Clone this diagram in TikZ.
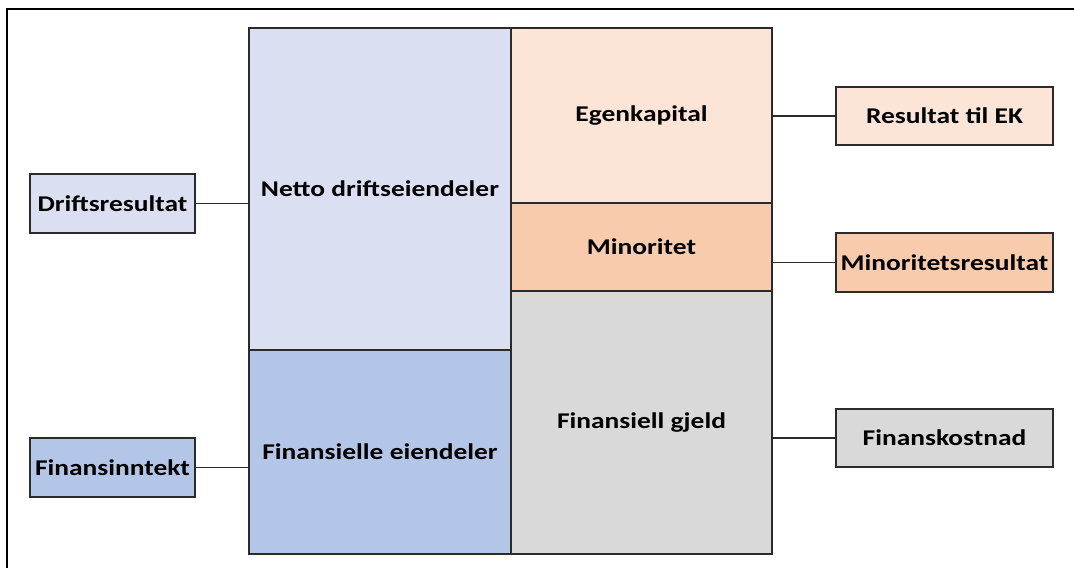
\documentclass[tikz,border=0pt]{standalone}
\usepackage{fontspec}
\usepackage{graphicx}
\setmainfont{Carlito}
\definecolor{opblue}{HTML}{DAE0F2}
\definecolor{finblue}{HTML}{B4C6E7}
\definecolor{ekpeach}{HTML}{FCE4D6}
\definecolor{minpeach}{HTML}{F8CBAD}
\definecolor{debtgray}{HTML}{D9D9D9}
\definecolor{edge}{HTML}{2B2B2B}
\newcommand{\lbl}[1]{\scalebox{1.22}[1]{#1}}
\tikzset{
  blk/.style={draw=edge, line width=1.3pt, inner sep=0pt, outer sep=0pt,
    font=\fontsize{22.5}{26}\selectfont\bfseries, text=black},
  side/.style={blk},
  link/.style={draw=edge, line width=1.1pt},
}
\begin{document}
\begin{tikzpicture}[x=1pt,y=1pt]
\useasboundingbox (0,0) rectangle (1074,568);
% frame (left and top edges)
\draw[line width=2.2pt, black] (7,0) -- (7,559) -- (1074,559);

% balance sheet, assets
\node[blk, fill=opblue, minimum width=262pt, minimum height=322pt] (nde) at (380,379) {\lbl{Netto driftseiendeler}};
\node[blk, fill=finblue, minimum width=262pt, minimum height=204pt] (fe) at (380,116) {\lbl{Finansielle eiendeler}};
% balance sheet, financing
\node[blk, fill=ekpeach, minimum width=261pt, minimum height=175pt] (ek) at (641.5,452.5) {\lbl{Egenkapital}};
\node[blk, fill=minpeach, minimum width=261pt, minimum height=88pt] (mi) at (641.5,321) {\lbl{Minoritet}};
\node[blk, fill=debtgray, minimum width=261pt, minimum height=263pt] (fg) at (641.5,145.5) {\lbl{Finansiell gjeld}};

% result items
\node[side, fill=opblue, minimum width=165pt, minimum height=59pt] (dr) at (112.5,364.5) {\lbl{Driftsresultat}};
\node[side, fill=finblue, minimum width=165pt, minimum height=59pt] (fi) at (112.5,100.5) {\lbl{Finansinntekt}};
\node[side, fill=ekpeach, minimum width=217pt, minimum height=58pt] (rek) at (944.5,452) {\lbl{Resultat til EK}};
\node[side, fill=minpeach, minimum width=217pt, minimum height=59pt] (mr) at (944.5,305.5) {\lbl{Minoritetsresultat}};
\node[side, fill=debtgray, minimum width=217pt, minimum height=58pt] (fk) at (944.5,130) {\lbl{Finanskostnad}};

% connectors
\draw[link] (dr.east) -- (dr.east -| nde.west);
\draw[link] (fi.east) -- (fi.east -| fe.west);
\draw[link] (rek.west -| ek.east) -- (rek.west);
\draw[link] (mr.west -| fg.east) -- (mr.west);
\draw[link] (fk.west -| fg.east) -- (fk.west);
\end{tikzpicture}
\end{document}
